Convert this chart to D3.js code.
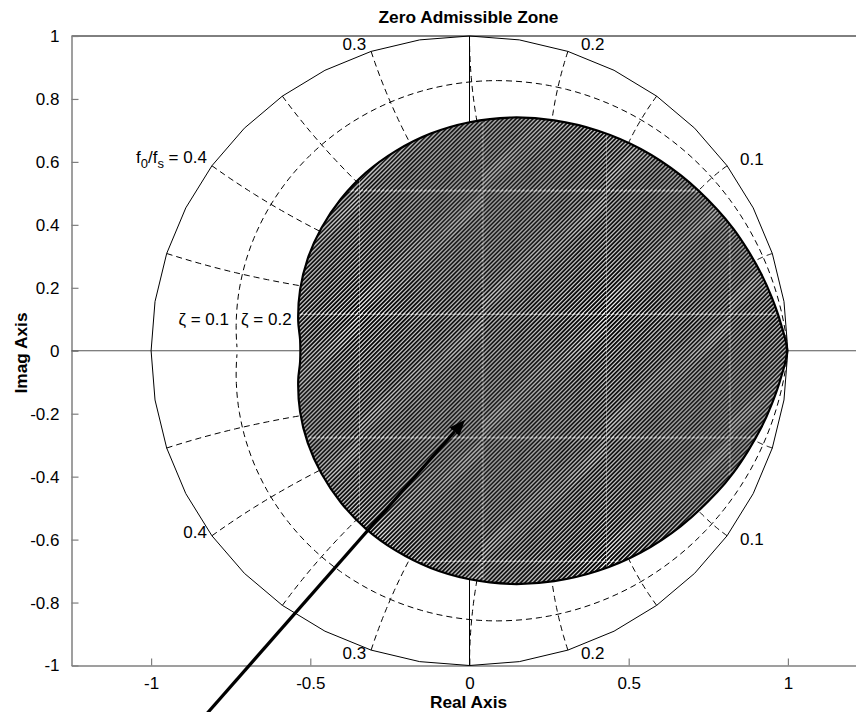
<!DOCTYPE html>
<html lang="en">
<head>
<meta charset="UTF-8">
<title>Zero Admissible Zone</title>
<script src="https://d3js.org/d3.v7.min.js"></script>
<style>
  body { margin: 0; background: #fff; }
  svg { display: block; font-family: "Liberation Sans", Arial, sans-serif; }
  .tick-label { font-size: 17px; fill: #000; }
  .axis-title { font-size: 17.3px; font-weight: bold; fill: #000; }
  .grid-label { font-size: 17px; fill: #000; }
</style>
</head>
<body>
<svg id="chart"></svg>
<script>
// zgrid style grid: damping ratios and normalised frequencies f0/fs
const zetaGrid = [0, 0.1];
const freqGrid = [0.05, 0.1, 0.15, 0.2, 0.25, 0.3, 0.35, 0.4, 0.45];
const freqLabels = [0.1, 0.2, 0.3, 0.4];
const zetaLabels = [0.1, 0.2];

const xTicks = [-1, -0.5, 0, 0.5, 1];
const yTicks = [-1, -0.8, -0.6, -0.4, -0.2, 0, 0.2, 0.4, 0.6, 0.8, 1];

// boundary of the zero admissible zone (real / imag parts)
const zoneRe = [0.997, 0.978, 0.950, 0.916, 0.875, 0.829, 0.778, 0.664, 0.538, 0.404,
                0.266, 0.131, 0.000, -0.122, -0.231, -0.326, -0.404, -0.465, -0.508, -0.532,
                -0.538, -0.532, -0.532, -0.538, -0.532, -0.508, -0.465, -0.404, -0.326, -0.231,
                -0.122, 0.000, 0.131, 0.266, 0.404, 0.538, 0.664, 0.778, 0.829, 0.875,
                0.916, 0.950, 0.978];
const zoneIm = [0.000, 0.086, 0.168, 0.245, 0.318, 0.387, 0.449, 0.557, 0.641, 0.699,
                0.732, 0.741, 0.726, 0.690, 0.635, 0.565, 0.482, 0.390, 0.293, 0.194,
                0.095, 0.034, -0.034, -0.095, -0.194, -0.293, -0.390, -0.482, -0.565, -0.635,
                -0.690, -0.726, -0.741, -0.732, -0.699, -0.641, -0.557, -0.449, -0.387, -0.318,
                -0.245, -0.168, -0.086];

// arrow annotation (data coordinates)
const arrowFrom = [-0.87, -1.205];
const arrowTo = [-0.014, -0.219];

const W = 856, H = 712;

const svg = d3.select('#chart')
    .attr('width', W)
    .attr('height', H);

const x = d3.scaleLinear().domain([-1.25, 1.25]).range([71.5, 867.5]);
const y = d3.scaleLinear().domain([-1, 1]).range([665.5, 36]);

// point on a constant damping / constant frequency curve
function zpoint(zeta, f) {
    const w = 2 * Math.PI * f;
    const r = Math.exp(-zeta * Math.abs(w));
    const th = w * Math.sqrt(1 - zeta * zeta);
    return [r * Math.cos(th), r * Math.sin(th)];
}

const line = d3.line().x(d => x(d[0])).y(d => y(d[1]));

// hatch pattern (diagonal stripes, tiles leave thin light seams)
const tile = 123.5;
const defs = svg.append('defs');
const pat = defs.append('pattern')
    .attr('id', 'hatch')
    .attr('patternUnits', 'userSpaceOnUse')
    .attr('x', 359).attr('y', 314)
    .attr('width', tile).attr('height', tile);
pat.append('rect').attr('width', tile).attr('height', tile).attr('fill', '#fff');
const step = 4.24;
pat.selectAll('line.s')
    .data(d3.range(-30, 31))
    .enter().append('line')
    .attr('x1', k => k * step).attr('y1', tile)
    .attr('x2', k => k * step + tile).attr('y2', 0)
    .attr('stroke', '#000').attr('stroke-width', 1.9);
pat.append('line').attr('x1', 0.4).attr('y1', 0).attr('x2', 0.4).attr('y2', tile)
    .attr('stroke', '#fff').attr('stroke-width', 0.8).attr('opacity', 0.45);
pat.append('line').attr('x1', 0).attr('y1', 0.4).attr('x2', tile).attr('y2', 0.4)
    .attr('stroke', '#fff').attr('stroke-width', 0.8).attr('opacity', 0.45);

// axes frame
svg.append('line')
    .attr('x1', x(-1.25)).attr('x2', W).attr('y1', y(1)).attr('y2', y(1))
    .attr('stroke', '#000').attr('stroke-width', 1);

const xAxis = d3.axisBottom(x).tickValues(xTicks).tickSizeInner(-7).tickSizeOuter(0)
    .tickPadding(11).tickFormat(d => String(d));
const gx = svg.append('g').attr('transform', `translate(0,${y(-1)})`).call(xAxis);
const yAxis = d3.axisLeft(y).tickValues(yTicks).tickSizeInner(-7).tickSizeOuter(0)
    .tickPadding(12).tickFormat(d => String(+d.toFixed(1)));
const gy = svg.append('g').attr('transform', `translate(${x(-1.25)},0)`).call(yAxis);
[gx, gy].forEach(g => {
    g.attr('font-family', null).attr('font-size', null);
    g.select('.domain').attr('stroke', '#7f7f7f').attr('stroke-width', 1.5);
    g.selectAll('.tick line').attr('stroke', '#7f7f7f').attr('stroke-width', 1.2);
    g.selectAll('.tick text').attr('class', 'tick-label');
});

// real and imaginary axes
svg.append('line')
    .attr('x1', x(-1.25)).attr('x2', W).attr('y1', y(0)).attr('y2', y(0))
    .attr('stroke', '#555').attr('stroke-width', 1.2);
svg.append('line')
    .attr('x1', x(0)).attr('x2', x(0)).attr('y1', y(1)).attr('y2', y(-1))
    .attr('stroke', '#000').attr('stroke-width', 1);

// constant damping curves
const grid = svg.append('g').attr('fill', 'none').attr('stroke', '#000');
zetaGrid.forEach(z => {
    const n = z === 0 ? 20 : 100;
    [1, -1].forEach(sgn => {
        const pts = d3.range(0, n + 1).map(i => zpoint(z, sgn * 0.5 * i / n));
        grid.append('path')
            .attr('d', line(pts))
            .attr('stroke-width', 1)
            .attr('stroke-dasharray', z === 0 ? null : '6,4');
    });
});

// constant frequency curves
freqGrid.forEach(f => {
    [1, -1].forEach(sgn => {
        const pts = d3.range(0, 31).map(i => zpoint(i * 0.01, sgn * f));
        grid.append('path')
            .attr('d', line(pts))
            .attr('stroke-width', 1)
            .attr('stroke-dasharray', '6,4');
    });
});

// frequency labels on the unit circle
freqLabels.forEach(f => {
    [1, -1].forEach(sgn => {
        const p = zpoint(0, sgn * f);
        const px = x(p[0]), py = y(p[1]);
        const right = p[0] > 0;
        let dy = sgn > 0 ? -1 : 9;
        if (f === 0.4) dy = sgn > 0 ? -3 : 2;
        const t = svg.append('text')
            .attr('class', 'grid-label')
            .attr('x', right ? px + 13 : px - 5)
            .attr('y', py + dy)
            .attr('text-anchor', right ? 'start' : 'end');
        if (f === 0.4 && sgn > 0) {
            t.append('tspan').text('f');
            t.append('tspan').attr('dy', 5).attr('font-size', 13).text('0');
            t.append('tspan').attr('dy', -5).text('/f');
            t.append('tspan').attr('dy', 5).attr('font-size', 13).text('s');
            t.append('tspan').attr('dy', -5).text(' = ' + f);
        } else {
            t.text(String(f));
        }
    });
});

// damping labels next to the real axis
zetaLabels.forEach(z => {
    const p = zpoint(z, 0.5);
    svg.append('text')
        .attr('class', 'grid-label')
        .attr('x', x(-Math.hypot(p[0], p[1])) - 8)
        .attr('y', y(0) - 26)
        .attr('text-anchor', 'end')
        .text('\u03b6 = ' + z);
});

// zero admissible zone
const zone = zoneRe.map((r, i) => [r, zoneIm[i]]);
svg.append('path')
    .attr('d', d3.line().x(d => x(d[0])).y(d => y(d[1])).curve(d3.curveCatmullRomClosed.alpha(0.5))(zone))
    .attr('fill', 'url(#hatch)')
    .attr('stroke', '#000')
    .attr('stroke-width', 2.2);

// arrow
const ax0 = x(arrowFrom[0]), ay0 = y(arrowFrom[1]);
const ax1 = x(arrowTo[0]), ay1 = y(arrowTo[1]);
const ang = Math.atan2(ay1 - ay0, ax1 - ax0);
const headLen = 16, headW = 6.5;
const bx = ax1 - headLen * Math.cos(ang), by = ay1 - headLen * Math.sin(ang);
svg.append('line')
    .attr('x1', ax0).attr('y1', ay0).attr('x2', bx).attr('y2', by)
    .attr('stroke', '#000').attr('stroke-width', 3.2);
svg.append('path')
    .attr('d', `M${ax1},${ay1}L${bx - headW * Math.sin(ang)},${by + headW * Math.cos(ang)}` +
        `L${bx + headW * Math.sin(ang)},${by - headW * Math.cos(ang)}Z`)
    .attr('fill', '#000');

// titles
svg.append('text').attr('class', 'axis-title')
    .attr('x', 468.5).attr('y', 22.7).attr('text-anchor', 'middle')
    .text('Zero Admissible Zone');
svg.append('text').attr('class', 'axis-title')
    .attr('x', 468.5).attr('y', 708).attr('text-anchor', 'middle')
    .text('Real Axis');
svg.append('text').attr('class', 'axis-title')
    .attr('transform', 'translate(26.7,353) rotate(-90)').attr('text-anchor', 'middle')
    .text('Imag Axis');
</script>
</body>
</html>
